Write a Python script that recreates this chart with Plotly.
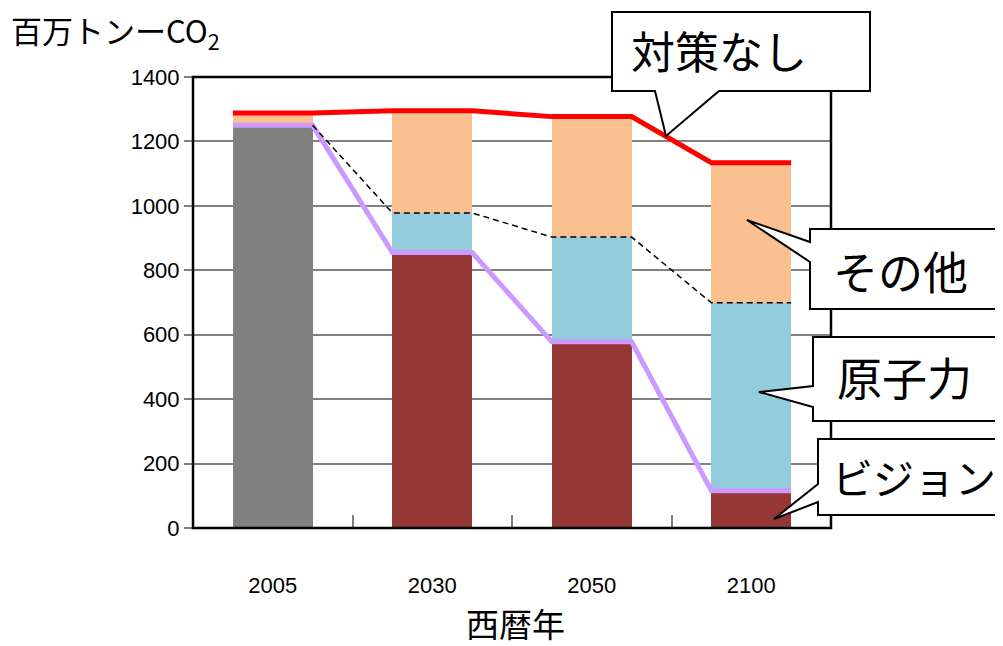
import plotly.graph_objects as go

# ---- data ----
years = ["2005", "2030", "2050", "2100"]
vision = [1250, 855, 578, 116]      # ビジョン (2005: actual emissions)
nuclear = [0, 123, 325, 583]        # 原子力
other = [38, 317, 374, 435]         # その他
y_ticks = [0, 200, 400, 600, 800, 1000, 1200, 1400]

# ---- styles ----
C_BASE = "#808080"
C_VISION = "#953735"
C_NUC = "#93CDDD"
C_OTHER = "#FAC090"
C_RED = "#FF0000"
C_PURPLE = "#CC99FF"
JP = "Noto Sans CJK JP, sans-serif"
NUM = "Liberation Sans, Arial, sans-serif"
HW = 0.25  # half bar width

OFF = 8  # page body margin
W, H = 1003, 646
L, R, T, B = 193 - OFF, 831 - OFF, 77 - OFF, 528 - OFF

def px(x):
    return (x - OFF - L) / (R - L)

def py(y):
    return (B - (y - OFF)) / (B - T)

xpos = list(range(len(years)))
total = [v + n + o for v, n, o in zip(vision, nuclear, other)]
mid = [v + n for v, n in zip(vision, nuclear)]

def step(vals):
    xs, ys = [], []
    for i, v in zip(xpos, vals):
        xs += [i - HW, i + HW]
        ys += [v, v]
    return xs, ys

fig = go.Figure()
fig.add_bar(x=xpos, y=vision, width=2 * HW,
            marker=dict(color=[C_BASE] + [C_VISION] * (len(years) - 1), line_width=0),
            name="ビジョン")
fig.add_bar(x=xpos, y=nuclear, width=2 * HW, marker=dict(color=C_NUC, line_width=0), name="原子力")
fig.add_bar(x=xpos, y=other, width=2 * HW, marker=dict(color=C_OTHER, line_width=0), name="その他")

# dashed line (vision + nuclear), starting at right edge of first bar
mx, my = step(mid)
dx = [xpos[0] + HW] + mx[2:]
dy = [vision[0]] + my[2:]
fig.add_scatter(x=dx, y=dy, mode="lines", xaxis="x2", yaxis="y",
                line=dict(color="black", width=1.5, dash="6px,4px"), hoverinfo="skip")

vx, vy = step(vision)
fig.add_scatter(x=vx, y=vy, mode="lines", line=dict(color=C_PURPLE, width=5), hoverinfo="skip")
tx, ty = step(total)
fig.add_scatter(x=tx, y=ty, mode="lines", line=dict(color=C_RED, width=5), hoverinfo="skip")

fig.update_layout(
    width=W, height=H,
    margin=dict(l=L, r=W - R, t=T, b=H - B),
    barmode="stack", showlegend=False,
    plot_bgcolor="white", paper_bgcolor="white",
    font=dict(family=NUM, size=21, color="black"),
    xaxis=dict(range=[-0.5, len(years) - 0.5], tickvals=xpos, ticktext=years,
               ticks="", showgrid=False, zeroline=False, showline=False,
               ticklabelstandoff=42, tickfont=dict(family=NUM, size=22)),
    xaxis2=dict(overlaying="x", matches="x", anchor="y", side="bottom",
                tickvals=[i + 0.5 for i in xpos[:-1]], ticks="inside", ticklen=13,
                tickwidth=2, tickcolor=C_BASE, showticklabels=False,
                showgrid=False, zeroline=False, showline=False),
    yaxis=dict(range=[0, 1400], tickvals=y_ticks, showgrid=True, gridcolor=C_BASE,
               gridwidth=2, zeroline=False, showline=False, ticks="outside",
               ticklen=8, tickwidth=2, tickcolor=C_BASE,
               tickfont=dict(family=NUM, size=22)),
)

shapes = [dict(type="rect", xref="paper", yref="paper", x0=0, x1=1, y0=0, y1=1,
               line=dict(color="black", width=2.5), layer="above")]

def path(points):
    s = "M " + " L ".join(f"{px(x):.5f},{py(y):.5f}" for x, y in points) + " Z"
    return dict(type="path", xref="paper", yref="paper", path=s,
                fillcolor="white", line=dict(color="black", width=2), layer="above")

# callouts (page pixel coordinates)
shapes.append(path([(612, 12), (870, 12), (870, 91), (719, 91), (666, 136), (655, 91), (612, 91)]))
shapes.append(path([(810, 229), (1000, 229), (1000, 309), (810, 309), (810, 262), (747, 220), (810, 242)]))
shapes.append(path([(813, 337), (1000, 337), (1000, 421), (813, 421), (813, 407), (759, 392), (813, 386)]))
shapes.append(path([(818, 439), (1000, 439), (1000, 515), (818, 515), (818, 502), (774, 519), (818, 484)]))
fig.update_layout(shapes=shapes)

ann = []
def label(text, x, y, size, xanchor="center"):
    ann.append(dict(text=text, x=px(x), y=py(y), xref="paper", yref="paper",
                    xanchor=xanchor, yanchor="middle", showarrow=False, borderpad=0,
                    font=dict(family=JP, size=size, color="black")))

label("対策なし", 719, 50, 44)
label("その他", 900, 270, 45)
label("原子力", 904, 376, 45)
label("ビジョン", 914, 476, 41)
label("西暦年", 515, 623, 33)
label("百万トンーCO<sub>2</sub>", 10, 32, 31, xanchor="left")
fig.update_layout(annotations=ann)

fig.write_html("out.html")
